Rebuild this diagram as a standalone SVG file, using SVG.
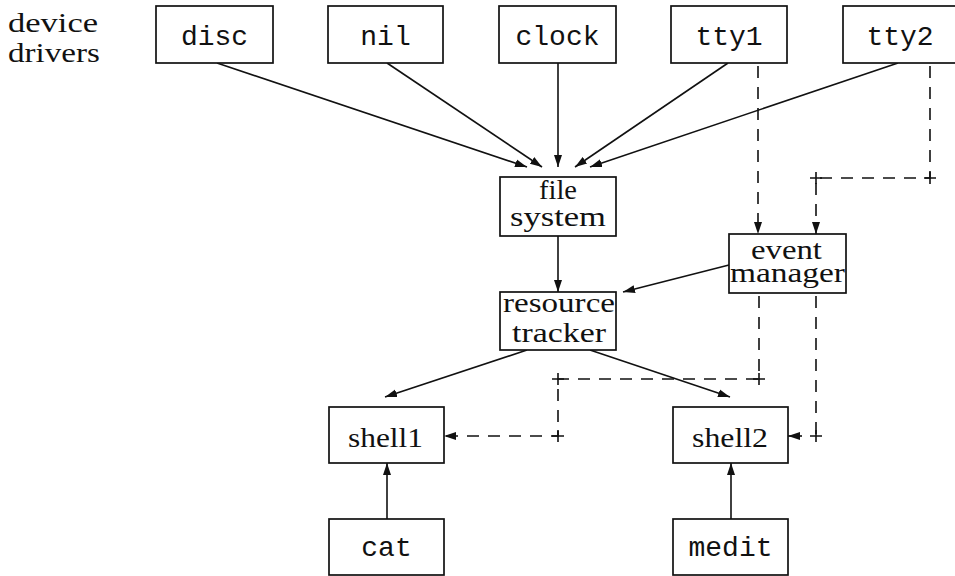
<svg xmlns="http://www.w3.org/2000/svg" width="955" height="576" viewBox="0 0 955 576">
<defs>
<marker id="ah" markerUnits="userSpaceOnUse" markerWidth="13" markerHeight="10" refX="12" refY="5" orient="auto">
<path d="M0,1 L12,5 L0,9 Z" fill="#111"/>
</marker>
<style>
.box{fill:#fff;stroke:#111;stroke-width:1.7}
.mono{font-family:"Liberation Mono","DejaVu Sans Mono",monospace;font-size:28px;fill:#111;text-anchor:middle}
.serif{font-family:"Liberation Serif","DejaVu Serif",serif;font-size:27px;fill:#111;text-anchor:middle}
.solid{fill:none;stroke:#111;stroke-width:1.6;marker-end:url(#ah)}
.dash{fill:none;stroke:#111;stroke-width:1.6;stroke-dasharray:12 9}
.dasha{fill:none;stroke:#111;stroke-width:1.6;stroke-dasharray:12 9;marker-end:url(#ah)}
.plus{fill:none;stroke:#111;stroke-width:1.6}
</style>
</defs>
<rect width="955" height="576" fill="#fff"/>
<g id="label">
<text class="serif" x="53" y="32" font-size="29" textLength="90" lengthAdjust="spacingAndGlyphs">device</text>
<text class="serif" x="54" y="62" font-size="29" textLength="92" lengthAdjust="spacingAndGlyphs">drivers</text>
</g>
<g id="connectors">
<line class="solid" x1="217" y1="63" x2="527" y2="167"/>
<line class="solid" x1="387" y1="63" x2="542" y2="167"/>
<line class="solid" x1="558" y1="63" x2="558" y2="167"/>
<line class="solid" x1="728" y1="63" x2="575" y2="167"/>
<line class="solid" x1="898" y1="63" x2="590" y2="167"/>
<line class="solid" x1="558" y1="236" x2="558" y2="292"/>
<line class="solid" x1="729" y1="265" x2="623" y2="292"/>
<line class="solid" x1="527" y1="350" x2="385" y2="397"/>
<line class="solid" x1="590" y1="350" x2="730" y2="397"/>
<line class="solid" x1="387" y1="519" x2="387" y2="463"/>
<line class="solid" x1="731" y1="519" x2="731" y2="463"/>
<path class="dasha" d="M758,66 V234"/>
<path class="dasha" d="M930,66 V178 H816 V234"/>
<path class="dasha" d="M759,296 V379 H558 V436 H444"/>
<path class="dash" d="M816,296 V436"/>
<line class="solid" x1="802" y1="436" x2="788" y2="436"/>
<path class="plus" d="M924,178 h12 M930,172 v12 M810,178 h12 M816,172 v12 M753,379 h12 M759,373 v12 M552,379 h12 M558,373 v12 M552,436 h12 M558,430 v12 M810,436 h12 M816,430 v12"/>
</g>
<g id="disc"><rect class="box" x="156" y="6" width="117" height="57"/><text class="mono" x="214.5" y="45">disc</text></g>
<g id="nil"><rect class="box" x="328" y="6" width="115" height="57"/><text class="mono" x="385.5" y="45">nil</text></g>
<g id="clock"><rect class="box" x="499" y="6" width="117" height="57"/><text class="mono" x="557.5" y="45">clock</text></g>
<g id="tty1"><rect class="box" x="671" y="6" width="116" height="57"/><text class="mono" x="729" y="45">tty1</text></g>
<g id="tty2"><rect class="box" x="843" y="6" width="116" height="57"/><text class="mono" x="900" y="45">tty2</text></g>
<g id="filesystem"><rect class="box" x="500" y="177" width="116" height="59"/>
<text class="serif" x="558" y="199" textLength="38" lengthAdjust="spacingAndGlyphs">file</text>
<text class="serif" x="558" y="226" textLength="96" lengthAdjust="spacingAndGlyphs">system</text></g>
<g id="resourcetracker"><rect class="box" x="500" y="292" width="116" height="58"/>
<text class="serif" x="559" y="312" textLength="112" lengthAdjust="spacingAndGlyphs">resource</text>
<text class="serif" x="559" y="342" textLength="94" lengthAdjust="spacingAndGlyphs">tracker</text></g>
<g id="eventmanager"><rect class="box" x="729" y="234" width="117" height="59"/>
<text class="serif" x="786.5" y="259" font-size="25" textLength="71" lengthAdjust="spacingAndGlyphs">event</text>
<text class="serif" x="787.5" y="282" font-size="25" textLength="115" lengthAdjust="spacingAndGlyphs">manager</text></g>
<g id="shell1"><rect class="box" x="329" y="407" width="115" height="56"/>
<text class="serif" x="385.5" y="447" textLength="75" lengthAdjust="spacingAndGlyphs">shell1</text></g>
<g id="shell2"><rect class="box" x="673" y="407" width="115" height="56"/>
<text class="serif" x="730" y="447" textLength="76" lengthAdjust="spacingAndGlyphs">shell2</text></g>
<g id="cat"><rect class="box" x="329" y="519" width="115" height="56"/><text class="mono" x="386.5" y="556">cat</text></g>
<g id="medit"><rect class="box" x="673" y="519" width="115" height="56"/><text class="mono" x="730.5" y="556">medit</text></g>
</svg>
